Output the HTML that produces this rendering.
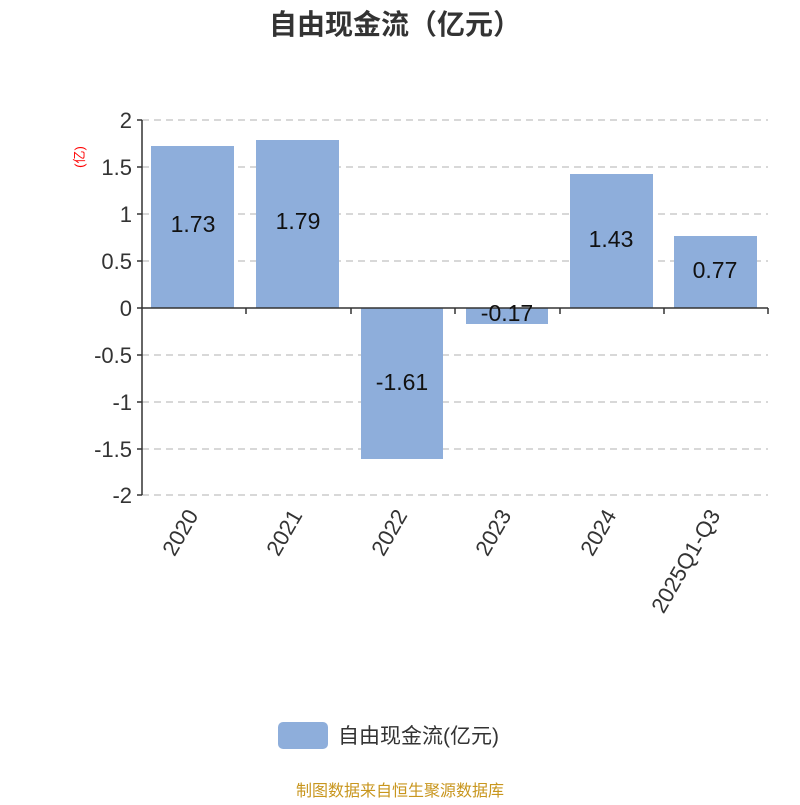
<!DOCTYPE html>
<html><head><meta charset="utf-8"><style>body{margin:0;background:#fff}</style></head><body>
<svg width="800" height="800" xmlns="http://www.w3.org/2000/svg" font-family="Liberation Sans, Noto Sans CJK SC, sans-serif">
<rect width="800" height="800" fill="#fff"/>
<text x="395" y="34" text-anchor="middle" font-size="28" font-weight="bold" fill="#333">自由现金流（亿元）</text>
<g stroke="#ccc" stroke-dasharray="7,5" stroke-width="1.5">
<line x1="142" x2="768" y1="120" y2="120"/><line x1="142" x2="768" y1="167" y2="167"/>
<line x1="142" x2="768" y1="214" y2="214"/><line x1="142" x2="768" y1="261" y2="261"/>
<line x1="142" x2="768" y1="355" y2="355"/><line x1="142" x2="768" y1="402" y2="402"/>
<line x1="142" x2="768" y1="449" y2="449"/><line x1="142" x2="768" y1="495" y2="495"/>
</g>
<g fill="#8eaedb">
<rect x="151" y="146" width="83" height="162"/>
<rect x="256" y="140" width="83" height="168"/>
<rect x="361" y="308" width="82" height="151"/>
<rect x="466" y="308" width="82" height="16"/>
<rect x="570" y="174" width="83" height="134"/>
<rect x="674" y="236" width="83" height="72"/>
</g>
<g stroke="#333" stroke-width="1.5">
<line x1="142" y1="120" x2="142" y2="495"/>
<line x1="142" y1="308" x2="768" y2="308"/>
<line x1="137" x2="142" y1="120" y2="120"/><line x1="137" x2="142" y1="167" y2="167"/>
<line x1="137" x2="142" y1="214" y2="214"/><line x1="137" x2="142" y1="261" y2="261"/>
<line x1="137" x2="142" y1="308" y2="308"/><line x1="137" x2="142" y1="355" y2="355"/>
<line x1="137" x2="142" y1="402" y2="402"/><line x1="137" x2="142" y1="449" y2="449"/>
<line x1="137" x2="142" y1="495" y2="495"/>
<line x1="246" x2="246" y1="308" y2="314"/><line x1="351" x2="351" y1="308" y2="314"/>
<line x1="455" x2="455" y1="308" y2="314"/><line x1="560" x2="560" y1="308" y2="314"/>
<line x1="664" x2="664" y1="308" y2="314"/><line x1="768" x2="768" y1="308" y2="314"/>
</g>
<g font-size="22" fill="#333" text-anchor="end">
<text x="132" y="128">2</text><text x="132" y="175">1.5</text><text x="132" y="222">1</text>
<text x="132" y="269">0.5</text><text x="132" y="316">0</text><text x="132" y="363">-0.5</text>
<text x="132" y="410">-1</text><text x="132" y="457">-1.5</text><text x="132" y="503">-2</text>
</g>
<text transform="translate(84,157) rotate(-90)" text-anchor="middle" font-size="13" fill="red">(亿)</text>
<g font-size="23" fill="#111" text-anchor="middle">
<text x="193" y="232">1.73</text><text x="298" y="229">1.79</text><text x="402" y="390">-1.61</text>
<text x="507" y="321">-0.17</text><text x="611" y="247">1.43</text><text x="715" y="278">0.77</text>
</g>
<g font-size="22" fill="#333" text-anchor="end">
<text transform="translate(199,515) rotate(-60)">2020</text>
<text transform="translate(303,515) rotate(-60)">2021</text>
<text transform="translate(408,515) rotate(-60)">2022</text>
<text transform="translate(512,515) rotate(-60)">2023</text>
<text transform="translate(617,515) rotate(-60)">2024</text>
<text transform="translate(721,515) rotate(-60)">2025Q1-Q3</text>
</g>
<rect x="278" y="722" width="50" height="27" rx="5" fill="#8eaedb"/>
<text x="338" y="743" font-size="21" fill="#333">自由现金流(亿元)</text>
<text x="400" y="796" text-anchor="middle" font-size="16" fill="#c8961e">制图数据来自恒生聚源数据库</text>
</svg>
</body></html>
